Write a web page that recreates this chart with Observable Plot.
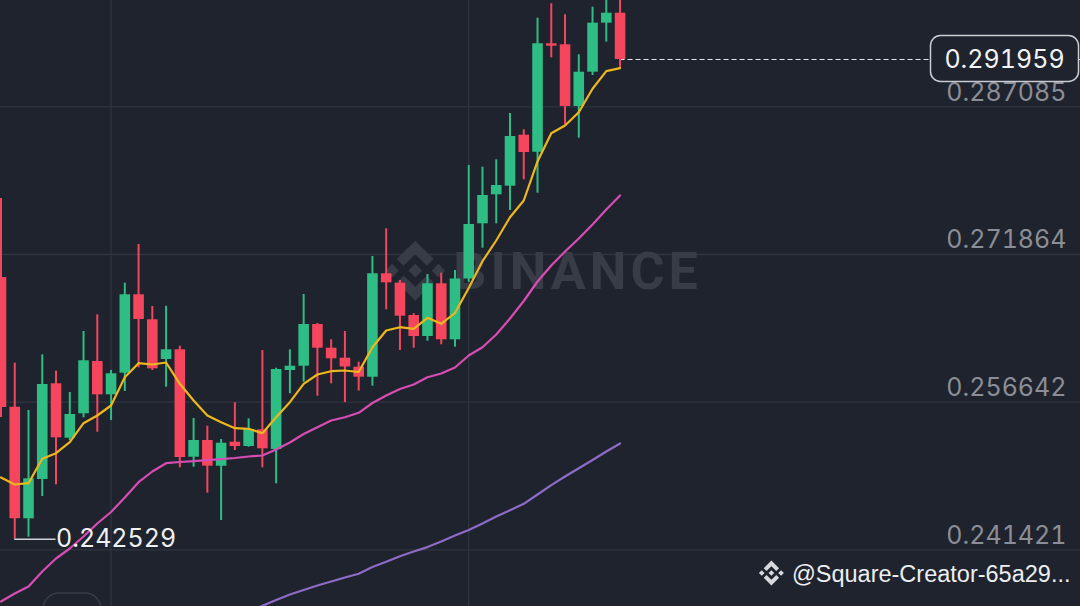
<!DOCTYPE html>
<html><head><meta charset="utf-8">
<script src="https://cdn.jsdelivr.net/npm/d3@7"></script>
<script src="https://cdn.jsdelivr.net/npm/@observablehq/plot@0.6"></script>
<style>
html,body{margin:0;padding:0;background:#1f232d;overflow:hidden}
#chart{position:relative;width:1080px;height:606px}
</style></head><body><div id="chart"></div>
<script>
// ---- data ----
const opens = [0.269494,0.256127,0.244625,0.248675,0.258538,0.252932,0.255447,0.260837,0.257405,0.259631,0.267711,0.265134,0.261043,0.262042,0.250974,0.252695,0.250046,0.252520,0.252076,0.253798,0.251767,0.259909,0.260352,0.264650,0.262207,0.261177,0.260249,0.259219,0.269875,0.268906,0.265577,0.263413,0.268844,0.263073,0.269339,0.275028,0.278017,0.278903,0.284159,0.282407,0.293579,0.293476,0.287117,0.290652,0.295702,0.296732];
const highs = [0.277635,0.260661,0.255787,0.261527,0.259837,0.257642,0.263928,0.265650,0.259909,0.268906,0.272895,0.266505,0.266536,0.262413,0.254962,0.254169,0.252798,0.256580,0.254931,0.261970,0.260146,0.262042,0.267742,0.264753,0.263073,0.263928,0.260764,0.271658,0.274513,0.269184,0.265753,0.269803,0.269937,0.270215,0.281036,0.280861,0.281624,0.286395,0.284716,0.296217,0.297702,0.296567,0.292445,0.297351,0.298800,0.298800];
const lows = [0.255065,0.242529,0.242729,0.246923,0.248129,0.252695,0.255034,0.253550,0.254756,0.257745,0.260187,0.259909,0.258188,0.249881,0.249943,0.247264,0.244450,0.251664,0.252000,0.249881,0.248232,0.257508,0.258703,0.257260,0.258538,0.256611,0.257796,0.258291,0.266165,0.261970,0.262207,0.262929,0.262558,0.262310,0.268978,0.272513,0.275028,0.276399,0.279563,0.278182,0.292136,0.285231,0.283850,0.290312,0.293744,0.290930];
const closes = [0.256096,0.244625,0.248748,0.258466,0.252973,0.255374,0.260909,0.257405,0.259569,0.267711,0.265165,0.260084,0.262042,0.250943,0.252695,0.250046,0.252417,0.252076,0.253828,0.251839,0.260012,0.260352,0.264650,0.262207,0.261115,0.260270,0.259219,0.269875,0.268947,0.265505,0.263413,0.268844,0.263073,0.269339,0.274956,0.277945,0.278975,0.284025,0.282376,0.293579,0.293331,0.287117,0.290652,0.295702,0.296732,0.291959];
const ma7 = [0.248882,0.248160,0.248294,0.250809,0.251386,0.252520,0.254478,0.255271,0.256302,0.259219,0.260661,0.260527,0.260734,0.258538,0.256817,0.255271,0.254581,0.253962,0.253901,0.253447,0.255096,0.256642,0.258538,0.259497,0.259837,0.259909,0.259754,0.262310,0.264031,0.264372,0.264207,0.265340,0.264722,0.265835,0.268411,0.271174,0.273307,0.275708,0.277429,0.281449,0.284355,0.285159,0.286529,0.288941,0.290755,0.291064];
const ma25 = [0.236102,0.236927,0.237648,0.239194,0.240534,0.241564,0.242801,0.244141,0.245326,0.246820,0.248397,0.249500,0.250355,0.250479,0.250561,0.250665,0.250768,0.250891,0.251046,0.251149,0.251767,0.252489,0.253365,0.254066,0.254756,0.255086,0.255550,0.256560,0.257333,0.258002,0.258466,0.259219,0.259600,0.260218,0.261455,0.262310,0.263619,0.265268,0.267072,0.269081,0.270730,0.272173,0.273513,0.274956,0.276502,0.277945];
const ma99 = [null,null,null,null,null,null,null,null,null,null,null,null,null,null,null,null,null,null,0.235072,0.235659,0.236257,0.236824,0.237287,0.237751,0.238163,0.238576,0.238957,0.239658,0.240194,0.240771,0.241255,0.241709,0.242286,0.242904,0.243481,0.244141,0.244862,0.245512,0.246171,0.247130,0.248098,0.248985,0.249840,0.250685,0.251561,0.252386];
const yTicks = [0.241421, 0.256642, 0.271864, 0.287085];
const xGridIdx = [8, 34];
const lastPrice = 0.291959;
const lowPrice = 0.242529;
const lowIdx = 1;
const watermarkText = "BINANCE";
const creditText = "@Square-Creator-65a29...";

// ---- styles ----
const BG = "#1f232d", GRID = "#30343e", UP = "#2ebd85", DOWN = "#f6465d";
const xDomain = [-0.0363, 78.47];
const yDomain = [0.235588, 0.298040];

const candles = opens.map((o, i) => ({i, open: o, high: highs[i], low: lows[i], close: closes[i], up: closes[i] >= o}));
const maRows = ma7.map((v, i) => ({i, ma7: v, ma25: ma25[i], ma99: ma99[i]}));
const lastIdx = candles.length - 1;
const fmt = d => d.toFixed(6);

const chart = Plot.plot({
  width: 1080, height: 606,
  marginTop: 0, marginBottom: 0, marginLeft: 0, marginRight: 0,
  style: {background: BG, fontFamily: "Inter, Roboto, sans-serif", fontVariantNumeric: "tabular-nums"},
  x: {domain: xDomain, axis: null},
  y: {domain: yDomain, axis: null, label: null},
  marks: [
    Plot.gridY(yTicks, {stroke: GRID, strokeOpacity: 1, strokeWidth: 1.3}),
    Plot.gridX(xGridIdx, {stroke: GRID, strokeOpacity: 1, strokeWidth: 1.3}),
    Plot.text([watermarkText], {frameAnchor: "middle", dx: 37, dy: -31, fontSize: 52, fontWeight: 700, fill: "#383c46", fontFamily: "Roboto"}),
    Plot.ruleY([lastPrice], {x1: lastIdx, x2: xDomain[1], stroke: "#e4e6ea", strokeWidth: 1.2, strokeDasharray: "5,3"}),
    Plot.ruleX(candles.filter(d => d.up), {x: "i", y1: "low", y2: "high", stroke: UP, strokeWidth: 2}),
    Plot.ruleX(candles.filter(d => !d.up), {x: "i", y1: "low", y2: "high", stroke: DOWN, strokeWidth: 2}),
    Plot.ruleX(candles.filter(d => d.up), {x: "i", y1: "open", y2: "close", stroke: UP, strokeWidth: 10.6}),
    Plot.ruleX(candles.filter(d => !d.up), {x: "i", y1: "open", y2: "close", stroke: DOWN, strokeWidth: 10.6}),
    Plot.line(maRows.filter(d => d.ma99 != null), {x: "i", y: "ma99", stroke: "#8d6cc7", strokeWidth: 2.2}),
    Plot.line(maRows, {x: "i", y: "ma25", stroke: "#d64db4", strokeWidth: 2.2}),
    Plot.line(maRows, {x: "i", y: "ma7", stroke: "#ecb81c", strokeWidth: 2.2}),
    Plot.axisY(yTicks, {anchor: "right", tickSize: 0, tickPadding: 0, textAnchor: "end", dx: -14, dy: -14, fill: "#8b8e96", fontSize: 25, tickFormat: fmt, label: null}),
    Plot.ruleY([lowPrice], {x1: lowIdx, x2: lowIdx + 3, stroke: "#cfd2d8", strokeWidth: 1.5}),
    Plot.text([lowPrice], {x: lowIdx + 3, y: d => d, text: fmt, textAnchor: "start", fill: "#eef0f3", fontSize: 25}),
    Plot.text([lastPrice], {y: d => d, frameAnchor: "right", dx: -76, text: d => "\u200B" + fmt(d), textAnchor: "middle", fill: "#f2f3f5", fontSize: 25}),
    Plot.text([creditText], {frameAnchor: "bottom-right", dx: -10, dy: -25, textAnchor: "end", fill: "#eceef1", fontSize: 23.5, fontFamily: "Liberation Sans, Arial, sans-serif"})
  ]
});
document.getElementById("chart").appendChild(chart);

// ---- decorations derived from rendered text ----
const NS = "http://www.w3.org/2000/svg";
const LOGO = "M38.73,53.2,63.3,28.62l24.6,24.6,14.3-14.31L63.3,0,24.42,38.88Z M0,63.31l14.31-14.3,14.3,14.3-14.3,14.3Z M38.73,73.41,63.3,98l24.6-24.6,14.31,14.3h0L63.3,126.61,24.42,87.74l0,0Z M98,63.31l14.3-14.3,14.31,14.3-14.3,14.3Z M77.83,63.3h0L63.3,48.76,52.56,59.5h0l-1.24,1.23-2.54,2.55h0l0,0L63.3,77.83,77.83,63.31h0Z";
const svgRect = chart.getBoundingClientRect();
const allText = Array.from(chart.querySelectorAll("text"));
const findText = s => allText.find(t => t.textContent === s);
function boxOf(el) { const r = el.getBoundingClientRect(); return {x: r.left - svgRect.left, y: r.top - svgRect.top, w: r.width, h: r.height}; }
function topGroup(el) { let n = el; while (n.parentNode && n.parentNode !== chart) n = n.parentNode; return n; }
function logo(fill) { const g = document.createElementNS(NS, "g"); const p = document.createElementNS(NS, "path"); p.setAttribute("d", LOGO); p.setAttribute("fill", fill); g.appendChild(p); return g; }

// watermark
const wmT = findText(watermarkText);
if (wmT) {
  wmT.style.letterSpacing = "4px";
  const b = boxOf(wmT);
  const g = logo("#383c46");
  const s = 60 / 126.61;
  g.setAttribute("transform", `translate(${b.x - 68},${b.y + b.h / 2 - 31}) scale(${s})`);
  const top = topGroup(wmT);
  chart.insertBefore(g, top.nextSibling);
}
// last price box
const lpT = findText("\u200B" + fmt(lastPrice));
if (lpT) {
  const b = boxOf(lpT);
  const r = document.createElementNS(NS, "rect");
  const cx = b.x + b.w / 2, cy = b.y + b.h / 2;
  r.setAttribute("x", cx - 74); r.setAttribute("y", cy - 23);
  r.setAttribute("width", 148); r.setAttribute("height", 46);
  r.setAttribute("rx", 10); r.setAttribute("fill", BG);
  r.setAttribute("stroke", "#c9ccd2"); r.setAttribute("stroke-width", 1.5);
  chart.insertBefore(r, topGroup(lpT));
}
// credit icon
const crT = findText(creditText);
if (crT) {
  const b = boxOf(crT);
  const g = logo("#d6d8dc");
  const s = 25 / 126.61;
  g.setAttribute("transform", `translate(${b.x - 33},${b.y + b.h / 2 - 13}) scale(${s})`);
  chart.appendChild(g);
}
// partially visible button outline at bottom-left
const btn = document.createElementNS(NS, "rect");
btn.setAttribute("x", 43); btn.setAttribute("y", 593); btn.setAttribute("width", 58); btn.setAttribute("height", 40);
btn.setAttribute("rx", 16); btn.setAttribute("fill", "none"); btn.setAttribute("stroke", "#3a3e48"); btn.setAttribute("stroke-width", 1.5);
chart.appendChild(btn);
</script>
</body></html>
